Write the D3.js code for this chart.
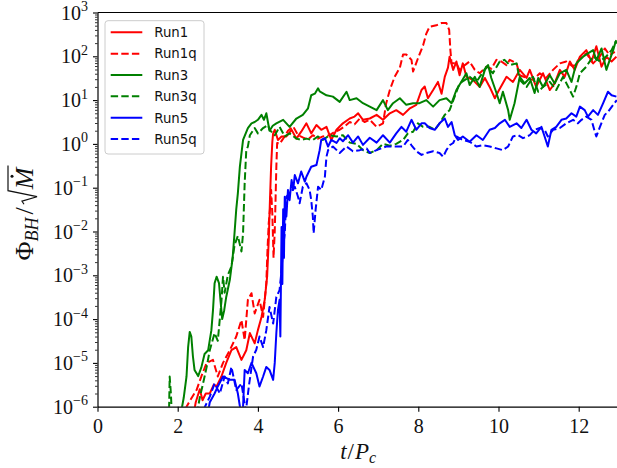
<!DOCTYPE html>
<html><head><meta charset="utf-8">
<script src="https://cdn.jsdelivr.net/npm/d3@7"></script>
<style>body{margin:0;background:#fff} svg{display:block}</style>
</head><body>
<svg id="chart" width="617" height="468"></svg>
<script>
// ---------------- data ----------------
const legendNames = ["Run1","Run1q","Run3","Run3q","Run5","Run5q"];
const xTicks = [0,2,4,6,8,10,12];
const yTickExps = [-6,-5,-4,-3,-2,-1,0,1,2,3];

const run1T = [2.37,2.45,2.55,2.62,2.70,2.80,2.90,2.97,3.09,3.21,3.34,3.46,3.59,3.71,3.80,3.92,4.00,4.09,4.17,4.23,4.27,4.30,4.33,4.36,4.38,4.42,4.50,4.59,4.71,4.84,4.96,5.08,5.21,5.33,5.46,5.58,5.71,5.83,5.96,6.12,6.29,6.41,6.50,6.62,6.79,6.96,7.12,7.29,7.45,7.62,7.79,7.95,8.08,8.16,8.24,8.37,8.49,8.58,8.66,8.74,8.78,8.87,8.95,9.03,9.11,9.20,9.36,9.53,9.66,9.78,9.91,9.99,10.2,10.36,10.53,10.7,10.78,10.94,11.11,11.28,11.4,11.53,11.65,11.78,11.9,12.03,12.19,12.32,12.44,12.57,12.69,12.82,12.94];
const run1Phi = [5e-7,1.26e-6,2.5e-6,1.4e-6,2e-6,2e-6,3.2e-6,2.9e-6,4.9e-6,1e-5,1.95e-5,2.3e-5,1.17e-5,1.95e-5,4.8e-5,2.8e-5,5.6e-5,1.12e-4,2.75e-4,9.3e-4,6.3e-3,0.05,0.316,1.12,1.74,2.1,1.23,1.48,1.48,2.1,1.32,1.9,2.95,1.74,2.7,2.1,2.45,1.23,2.1,2.95,3.8,4.2,5.0,3.55,3.8,4.6,3.55,5.0,5.9,4.6,6.5,7.8,17,20.4,11,17,26,14,34,55,98,49,76,37,69,34,29,20,32,20,11,15.5,34,26,49,32,49,20,41,17,24,49,34,76,49,98,138,76,170,58,98,76,98];

const run1qT = [2.18,2.22,2.35,2.47,2.59,2.72,2.88,3.0,3.13,3.30,3.46,3.59,3.67,3.75,3.84,3.92,4.04,4.13,4.21,4.24,4.27,4.30,4.33,4.36,4.39,4.42,4.44,4.46,4.48,4.54,4.63,4.75,4.88,5.0,5.12,5.25,5.37,5.5,5.62,5.79,5.92,6.04,6.16,6.29,6.41,6.54,6.66,6.79,6.96,7.12,7.2,7.29,7.41,7.54,7.62,7.70,7.83,7.87,7.99,8.12,8.2,8.28,8.45,8.58,8.70,8.77,8.80,8.83,8.95,9.03,9.16,9.28,9.41,9.53,9.7,9.82,9.95,10.07,10.2,10.28,10.45,10.53,10.7,10.86,11.03,11.19,11.36,11.53,11.69,11.86,12.02,12.19,12.36,12.53,12.65,12.77,12.9];
const run1qPhi = [5e-7,1e-6,1.6e-6,2.4e-6,4.9e-6,1e-5,1.17e-5,4.9e-6,1e-5,1.95e-5,4e-5,9.5e-5,3.3e-5,2.75e-4,3.9e-4,1.35e-4,2.75e-4,1.12e-4,6.6e-4,4e-3,0.0155,0.031,0.089,0.025,2.5e-3,0.01,0.052,0.30,1.05,1.0,1.32,2.0,2.5,1.58,1.41,1.26,1.58,1.32,1.48,1.58,1.9,2.1,2.5,3.16,2.8,3.8,3.16,3.55,2.45,2.95,8.5,17,34,55,110,110,83,45,89,178,330,470,510,575,575,400,138,69,69,49,63,76,49,41,58,52,83,76,63,83,69,37,32,29,41,32,49,69,76,58,89,117,69,100,151,107,126];

const run3T = [2.05,2.15,2.22,2.26,2.30,2.34,2.38,2.42,2.51,2.59,2.67,2.76,2.80,2.84,2.88,2.92,2.97,3.03,3.07,3.11,3.16,3.21,3.30,3.37,3.42,3.46,3.50,3.55,3.63,3.75,3.84,3.92,4.0,4.09,4.15,4.21,4.29,4.37,4.46,4.63,4.79,4.96,5.12,5.25,5.33,5.42,5.50,5.54,5.71,5.87,6.04,6.21,6.29,6.46,6.62,6.79,6.96,7.12,7.24,7.37,7.54,7.70,7.87,8.03,8.20,8.37,8.53,8.70,8.83,8.95,9.07,9.20,9.28,9.41,9.53,9.66,9.74,9.82,9.95,10.03,10.11,10.24,10.28,10.40,10.53,10.65,10.78,10.90,10.99,11.11,11.28,11.40,11.53,11.69,11.82,11.94,12.11,12.23,12.36,12.44,12.57,12.69,12.77,12.86,12.92,12.98];
const run3Phi = [5e-7,1.6e-6,4.9e-6,2.3e-5,5.1e-5,4e-5,1.4e-5,6.9e-6,5e-6,7.9e-6,1.6e-5,1.95e-5,3.3e-5,5.6e-5,1.6e-4,6.6e-4,9.3e-4,6.6e-4,2.5e-4,1e-4,1.6e-4,3.2e-4,7.9e-4,2.5e-3,0.01,0.032,0.074,0.30,1.23,2.3,2.95,3.16,3.55,4.6,3.55,5.0,2.0,2.6,2.95,3.55,2.45,3.8,4.6,6.5,12.9,14,18.6,15.8,12.9,12,9.1,15.5,10,11,8.5,7.1,5.9,10,5.9,8.5,11,7.8,8.5,8.5,10,7.1,10,11,8.5,17,26,41,22,34,20,49,63,32,14.5,8.5,15.5,5.9,3.55,8.5,34,24,32,14.5,32,20,37,24,41,49,26,69,98,117,138,81,151,49,81,138,214,200];

const run3qT = [1.78,1.80,1.83,1.86,2.45,2.55,2.65,2.72,2.80,2.92,3.0,3.09,3.13,3.17,3.25,3.34,3.42,3.5,3.59,3.63,3.67,3.71,3.75,3.80,3.92,4.0,4.13,4.25,4.29,4.42,4.54,4.67,4.79,4.96,5.08,5.21,5.37,5.5,5.62,5.79,5.96,6.12,6.29,6.46,6.62,6.79,6.96,7.12,7.29,7.45,7.62,7.74,7.87,7.99,8.12,8.28,8.41,8.53,8.66,8.78,9.03,9.28,9.45,9.7,9.86,10.03,10.15,10.28,10.45,10.53,10.7,10.86,10.99,11.11,11.28,11.44,11.61,11.74,11.86,11.94,12.03,12.19,12.36,12.53,12.69,12.82,12.94];
const run3qPhi = [5e-7,4.9e-6,2e-6,5e-7,5e-7,1.6e-6,4e-6,7.9e-6,1.95e-5,4.8e-5,3.2e-5,2.5e-4,9.3e-4,4e-4,1e-3,1.6e-3,5e-3,7.9e-3,3.5e-3,9.1e-3,0.126,0.72,0.87,1.58,2.3,1.74,2.3,2.7,2.1,1.58,2.45,1.48,1.74,1.32,1.23,1.32,1.23,1.48,1.23,1.58,1.48,1.58,1.07,1.0,0.72,0.62,0.72,1.0,0.91,1.0,1.23,1.74,1.9,2.95,2.45,2.45,2.1,2.95,4.6,5.9,24,34,26,58,41,76,83,63,69,29,20,34,15.5,20,26,17,34,20,12,20,41,58,100,76,100,138,234];

const run5T = [2.72,2.8,2.92,3.0,3.13,3.30,3.42,3.50,3.57,3.62,3.67,3.75,3.84,3.96,4.04,4.13,4.21,4.29,4.38,4.42,4.46,4.50,4.54,4.56,4.59,4.61,4.63,4.65,4.67,4.71,4.75,4.79,4.84,4.88,4.92,5.0,5.08,5.17,5.21,5.33,5.46,5.54,5.58,5.67,5.75,5.83,5.96,6.04,6.12,6.25,6.37,6.5,6.62,6.79,6.96,7.12,7.29,7.45,7.58,7.70,7.83,7.95,8.08,8.16,8.28,8.41,8.53,8.66,8.74,8.83,8.91,8.99,9.11,9.28,9.45,9.61,9.78,9.91,10.03,10.16,10.28,10.45,10.57,10.7,10.82,10.94,11.07,11.15,11.23,11.32,11.44,11.57,11.69,11.82,11.94,12.03,12.15,12.23,12.36,12.48,12.61,12.73,12.82,12.94];
const run5Phi = [5e-7,1.26e-6,2e-6,2.9e-6,4.9e-6,4.1e-6,4.1e-6,2e-6,7.9e-7,6.3e-7,6.9e-6,5.8e-6,1e-5,5.8e-6,2.9e-6,4.9e-6,8.1e-6,6.9e-6,4.1e-6,1e-5,4.8e-5,1.6e-4,2.75e-4,4e-5,0.0126,6.3e-4,0.032,2.5e-3,0.062,0.022,0.089,0.052,0.15,0.089,0.195,0.126,0.234,0.138,0.178,0.30,0.33,0.72,1.23,1.35,0.87,1.23,1.05,1.35,1.15,1.58,1.07,1.48,0.95,1.38,1.07,1.58,1.07,1.74,2.45,1.9,3.55,2.1,2.95,2.95,2.3,2.1,2.95,3.8,2.45,3.16,1.58,1.23,1.48,1.12,1.58,1.23,2.1,2.3,2.95,3.55,2.45,2.95,2.3,3.55,2.1,1.74,2.45,1.48,0.87,2.1,2.45,3.55,3.8,5.0,4.2,7.1,5.9,4.2,5.9,4.6,8.5,15.5,12.9,12];

const run5qT = [2.55,2.68,2.80,2.92,3.05,3.17,3.25,3.34,3.46,3.59,3.63,3.70,3.78,3.88,3.96,4.04,4.13,4.21,4.29,4.38,4.46,4.54,4.59,4.63,4.67,4.71,4.79,4.92,5.0,5.04,5.12,5.21,5.29,5.33,5.37,5.39,5.44,5.5,5.58,5.67,5.71,5.75,5.87,6.04,6.21,6.37,6.54,6.71,6.79,6.96,7.2,7.45,7.62,7.74,7.83,7.95,8.08,8.2,8.37,8.53,8.62,8.7,8.78,8.87,8.95,9.11,9.28,9.45,9.61,9.78,9.95,10.11,10.24,10.36,10.49,10.61,10.78,10.9,11.03,11.15,11.23,11.36,11.53,11.69,11.86,11.98,12.07,12.19,12.32,12.4,12.44,12.53,12.65,12.73,12.86,12.95];
const run5qPhi = [5e-7,1e-6,1.7e-6,3.4e-6,2e-6,4.9e-6,3.4e-6,8.1e-6,2.4e-6,3.4e-6,2e-6,7.9e-7,3.2e-6,1.4e-5,2e-5,4e-5,2.3e-5,5.6e-5,1.9e-4,7.9e-5,3.2e-4,4.6e-4,1.3e-3,4.5e-3,9.1e-3,0.062,0.074,0.105,0.062,0.044,0.105,0.126,0.089,0.052,0.022,9.1e-3,0.032,0.105,0.089,0.178,0.51,0.72,0.87,0.62,0.87,0.68,0.72,0.79,0.62,0.72,0.87,0.87,0.87,1.23,0.93,0.68,0.56,0.62,0.68,0.62,0.51,0.72,0.93,1.05,1.48,1.23,1.12,0.87,0.93,0.87,0.79,0.72,0.87,1.48,1.58,1.35,1.58,2.1,2.3,2.1,1.48,2.1,2.3,2.95,3.55,2.95,3.55,4.2,3.55,1.9,1.48,2.45,4.6,5.4,7.8,10];

// ---------------- drawing ----------------
const W = 617, H = 468;
const SERIF = "'Liberation Serif','DejaVu Serif',serif";
const SANS = "'DejaVu Sans','Liberation Sans',sans-serif";
const INK = "#111";
const X0 = 97.5, X1 = 618.8, Y0 = 406.7, Y1 = 12.5;
const x = d3.scaleLinear().domain([0, 13]).range([X0, X1]);
const y = d3.scaleLog().domain([1e-6, 1e3]).range([Y0, Y1]);

const svg = d3.select("#chart");
svg.append("rect").attr("width", W).attr("height", H).attr("fill", "#fff");
svg.append("defs").append("clipPath").attr("id", "clip")
  .append("rect").attr("x", X0).attr("y", Y1).attr("width", X1 - X0).attr("height", Y0 - Y1);

const series = [
  {t: run1T, v: run1Phi, color: "#ff0000", dash: false},
  {t: run1qT, v: run1qPhi, color: "#ff0000", dash: true},
  {t: run3T, v: run3Phi, color: "#008000", dash: false},
  {t: run3qT, v: run3qPhi, color: "#008000", dash: true},
  {t: run5T, v: run5Phi, color: "#0000ff", dash: false},
  {t: run5qT, v: run5qPhi, color: "#0000ff", dash: true}
];
const DASH = "7.4,3.2";
const line = d3.line().x(d => x(d[0])).y(d => y(d[1]));
const gLines = svg.append("g").attr("clip-path", "url(#clip)");
series.forEach(s => {
  gLines.append("path").datum(d3.zip(s.t, s.v)).attr("d", line)
    .attr("fill", "none").attr("stroke", s.color).attr("stroke-width", 2)
    .attr("stroke-linejoin", "round")
    .attr("stroke-dasharray", s.dash ? DASH : null);
});

// x axis
const gx = svg.append("g").attr("transform", `translate(0,${Y0})`)
  .call(d3.axisBottom(x).tickValues(xTicks).tickSize(5).tickSizeOuter(0).tickPadding(7).tickFormat(d3.format("d")));
gx.select(".domain").attr("stroke", "#000").attr("stroke-width", 1.2);
gx.selectAll(".tick line").attr("stroke", "#000").attr("stroke-width", 1.1);
gx.selectAll(".tick text").attr("font-family", SERIF).attr("font-size", 20).attr("fill", INK);

// y axis: minor + major ticks
const yMinor = [];
yTickExps.slice(0, -1).forEach(e => { for (let k = 2; k <= 9; k++) yMinor.push(k * Math.pow(10, e)); });
const gyMinor = svg.append("g").attr("transform", `translate(${X0},0)`)
  .call(d3.axisLeft(y).tickValues(yMinor).tickSize(2.5).tickSizeOuter(0).tickFormat(""));
gyMinor.select(".domain").remove();
gyMinor.selectAll(".tick line").attr("stroke", "#000").attr("stroke-width", 0.8);
const yMajor = yTickExps.map(e => Math.pow(10, e));
const gy = svg.append("g").attr("transform", `translate(${X0},0)`)
  .call(d3.axisLeft(y).tickValues(yMajor).tickSize(4.5).tickSizeOuter(0).tickFormat(""));
gy.select(".domain").attr("stroke", "#000").attr("stroke-width", 1.2);
gy.selectAll(".tick line").attr("stroke", "#000").attr("stroke-width", 1.1);
const yl = svg.append("g");
yTickExps.forEach(e => {
  const t = yl.append("text").attr("x", 88).attr("y", y(Math.pow(10, e)) + 7)
    .attr("text-anchor", "end").attr("font-family", SERIF).attr("fill", INK);
  t.append("tspan").attr("font-size", 20).text("10");
  t.append("tspan").attr("font-size", 14).attr("dy", -8.5)
    .text(e < 0 ? "\u2212" + Math.abs(e) : String(e));
});

// top and right spines
svg.append("line").attr("x1", X0).attr("x2", X1).attr("y1", Y1).attr("y2", Y1).attr("stroke", "#000").attr("stroke-width", 1.2);
svg.append("line").attr("x1", X1).attr("x2", X1).attr("y1", Y1).attr("y2", Y0).attr("stroke", "#000").attr("stroke-width", 1.2);

// rich text helper (pieces laid out left to right, centred on 0)
function rich(g, pieces) {
  let xp = 0; const items = [];
  const texts = [];
  pieces.forEach(p => {
    xp += (p.pre || 0);
    const t = g.append("text").attr("x", xp).attr("y", p.dy || 0)
      .attr("font-family", SERIF).attr("font-size", p.size)
      .attr("font-style", p.italic ? "italic" : "normal").attr("fill", INK).text(p.text);
    const w = p.text ? t.node().getComputedTextLength() : 0;
    items.push({x: xp, w});
    texts.push(t);
    xp += w + (p.gap || 0);
  });
  const off = -xp / 2;
  texts.forEach(t => t.attr("transform", `translate(${off},0)`));
  items.forEach(it => { it.x += off; });
  return {width: xp, items};
}

// x label
const gxl = svg.append("g").attr("transform", `translate(${(X0 + X1) / 2},459)`);
rich(gxl, [
  {text: "t", size: 23, italic: true, gap: 1},
  {text: "/", size: 23, gap: 1},
  {text: "P", size: 23, italic: true},
  {text: "c", size: 16, italic: true, dy: 4}
]);

// y label  Φ_BH / √Ṁ
const gyl = svg.append("g").attr("transform", `translate(33,214) rotate(-90)`);
const r = rich(gyl, [
  {text: "\u03A6", size: 26},
  {text: "BH", size: 18, italic: true, dy: 5, gap: 3},
  {text: "/", size: 26, gap: 3},
  {text: "", size: 26, gap: 15},
  {text: "M", size: 26, italic: true}
]);
const rad = r.items[3], mI = r.items[4];
const rx0 = rad.x - 15 + 0 + 15 - 15; // start of radical slot
const s0 = r.items[2].x + r.items[2].w + 3;
gyl.append("path")
  .attr("d", `M${s0},-9 L${s0 + 3},-11 L${s0 + 7.5},4 L${s0 + 13.5},-25 L${mI.x + mI.w + 2},-25`)
  .attr("fill", "none").attr("stroke", INK).attr("stroke-width", 1.2).attr("stroke-linejoin", "miter");
gyl.append("circle").attr("cx", mI.x + mI.w * 0.6).attr("cy", -21).attr("r", 1.5).attr("fill", INK);

// legend
const lg = svg.append("g");
lg.append("rect").attr("x", 105).attr("y", 20.7).attr("width", 99).attr("height", 133.3)
  .attr("rx", 3).attr("fill", "#fff").attr("fill-opacity", 0.8).attr("stroke", "#cccccc").attr("stroke-width", 1);
legendNames.forEach((n, i) => {
  const ly = 32.3 + i * 21.35;
  const s = series[i];
  lg.append("line").attr("x1", 110.7).attr("x2", 142.3).attr("y1", ly).attr("y2", ly)
    .attr("stroke", s.color).attr("stroke-width", 2).attr("stroke-dasharray", s.dash ? DASH : null);
  lg.append("text").attr("x", 154.3).attr("y", ly + 4.8).attr("font-family", SANS)
    .attr("font-size", 13.3).attr("fill", INK).text(n);
});
</script>
</body></html>
